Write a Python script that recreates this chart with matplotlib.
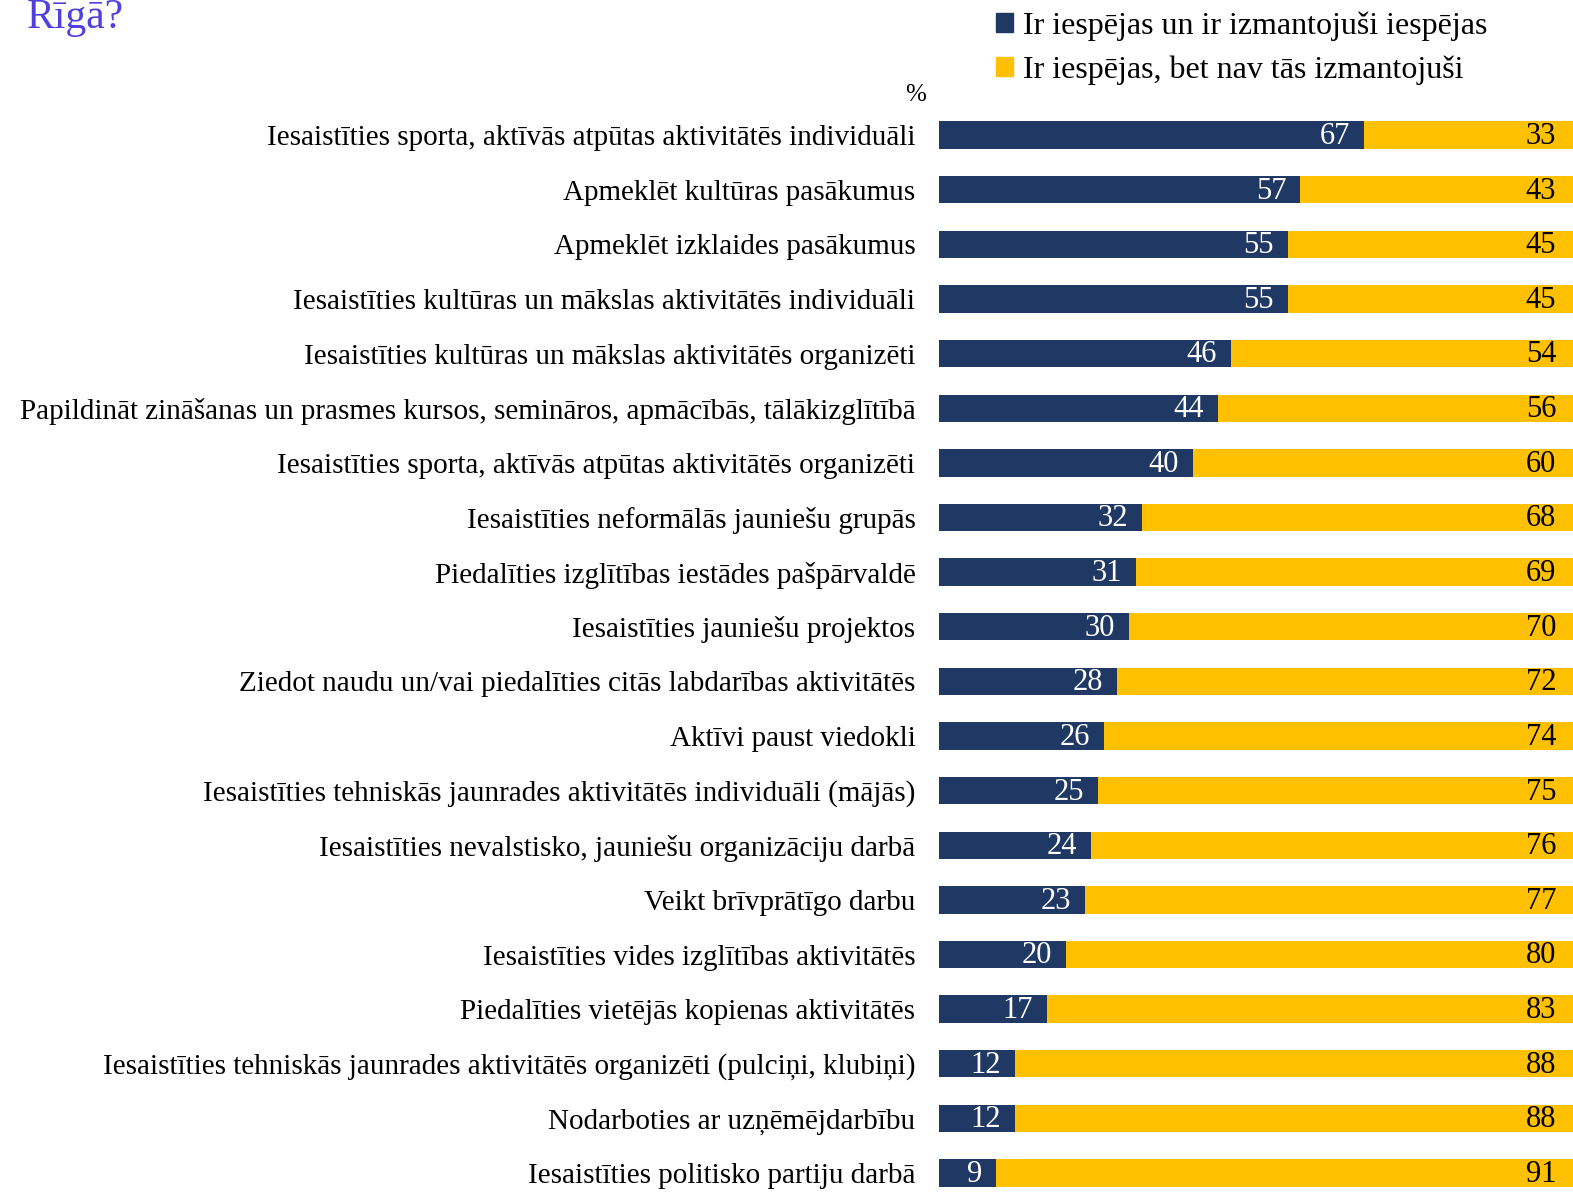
import numpy as np
import matplotlib
matplotlib.use('Agg')
import matplotlib.pyplot as plt
from matplotlib.patches import Patch

plt.rcParams['font.family'] = ['Liberation Serif', 'DejaVu Serif']

categories = [
    'Iesaistīties sporta, aktīvās atpūtas aktivitātēs individuāli',
    'Apmeklēt kultūras pasākumus',
    'Apmeklēt izklaides pasākumus',
    'Iesaistīties kultūras un mākslas aktivitātēs individuāli',
    'Iesaistīties kultūras un mākslas aktivitātēs organizēti',
    'Papildināt zināšanas un prasmes kursos, semināros, apmācībās, tālākizglītībā',
    'Iesaistīties sporta, aktīvās atpūtas aktivitātēs organizēti',
    'Iesaistīties neformālās jauniešu grupās',
    'Piedalīties izglītības iestādes pašpārvaldē',
    'Iesaistīties jauniešu projektos',
    'Ziedot naudu un/vai piedalīties citās labdarības aktivitātēs',
    'Aktīvi paust viedokli',
    'Iesaistīties tehniskās jaunrades aktivitātēs individuāli (mājās)',
    'Iesaistīties nevalstisko, jauniešu organizāciju darbā',
    'Veikt brīvprātīgo darbu',
    'Iesaistīties vides izglītības aktivitātēs',
    'Piedalīties vietējās kopienas aktivitātēs',
    'Iesaistīties tehniskās jaunrades aktivitātēs organizēti (pulciņi, klubiņi)',
    'Nodarboties ar uzņēmējdarbību',
    'Iesaistīties politisko partiju darbā',
]
used = [67, 57, 55, 55, 46, 44, 40, 32, 31, 30, 28, 26, 25, 24, 23, 20, 17, 12, 12, 9]
not_used = [33, 43, 45, 45, 54, 56, 60, 68, 69, 70, 72, 74, 75, 76, 77, 80, 83, 88, 88, 91]
series_names = ['Ir iespējas un ir izmantojuši iespējas',
                'Ir iespējas, bet nav tās izmantojuši']

navy = '#203864'
gold = '#FFC000'
fs = 21

fig = plt.figure(figsize=(15.73, 11.92), dpi=100)
ax = fig.add_axes([0.5970, -0.0070, 0.4030, 0.9166])

y = np.arange(len(categories))
ax.barh(y, used, height=0.5, color=navy)
ax.barh(y, not_used, left=used, height=0.5, color=gold)

for i in range(len(categories)):
    ax.annotate(str(used[i]), (used[i], i), xytext=(-10, -1), textcoords='offset points',
                ha='right', va='center', color='white', fontsize=22)
    ax.annotate(str(not_used[i]), (100, i), xytext=(-12, -1), textcoords='offset points',
                ha='right', va='center', color='black', fontsize=22)

ax.set_xlim(0, 100)
ax.set_ylim(len(categories) - 0.5, -0.5)
ax.set_yticks(y)
ax.set_yticklabels(categories, fontsize=fs)
ax.tick_params(axis='y', length=0, pad=17)
ax.set_xticks([])
for s in ax.spines.values():
    s.set_visible(False)

fig.text(0.017, 1 - 28 / 1192, 'Rīgā?', fontsize=30, color='#5040E0', va='baseline')
fig.text(916 / 1573, 1 - 95 / 1192, '%', fontsize=18, ha='center', va='center')

handles = [Patch(color=navy), Patch(color=gold)]
fig.legend(handles, series_names, loc='upper left', bbox_to_anchor=(983 / 1573, 1.001),
           frameon=False, fontsize=23, handlelength=0.55, handleheight=0.55,
           handletextpad=0.3, labelspacing=0.45, borderaxespad=0)

fig.savefig('out.png', dpi=100)
